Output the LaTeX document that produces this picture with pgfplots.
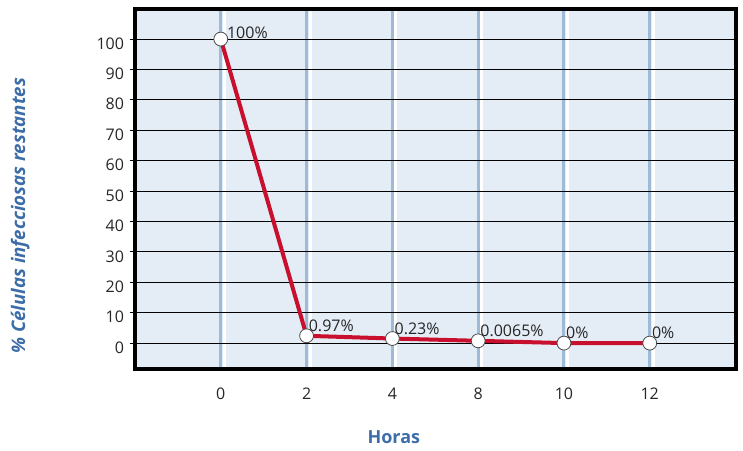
\documentclass[border=0pt]{standalone}
\usepackage{pgfplots}
\pgfplotsset{compat=1.18}
\usepackage{fontspec}
\setmainfont{Open Sans}
\definecolor{bgblue}{HTML}{E4ECF6}
\definecolor{gridblue}{HTML}{9DBAD6}
\definecolor{labblue}{HTML}{3D6DA8}
\definecolor{linered}{HTML}{C8102E}
\begin{document}
\begin{tikzpicture}
\begin{axis}[
  scale only axis,
  width=450.4pt, height=270.2pt,
  xmin=-1, xmax=6, ymin=-8.5, ymax=110,
  axis background/.style={fill=bgblue},
  axis line style={line width=3pt, black},
  axis on top=true,
  xtick={0,1,2,3,4,5},
  xticklabels={0,2,4,8,10,12},
  ytick={0,10,...,100},
  ytick pos=left,
  x tick style={draw=none},
  y tick style={black, line width=0.6pt},
  tick align=outside,
  major tick length=3.75pt,
  /pgf/number format/assume math mode=true,
  ticklabel style={font=\fontsize{12}{14}\selectfont, text=black!85},
  yticklabel style={yshift=-3.3pt, xshift=-1pt},
  xticklabel style={yshift=-7pt},
  xlabel={\bfseries Horas},
  ylabel={\bfseries\itshape \% Células infecciosas restantes},
  xlabel style={font=\fontsize{13.5}{16}\selectfont, text=labblue, at={(axis description cs:0.431,-0.189)}, anchor=center},
  ylabel style={font=\fontsize{14}{16}\selectfont, text=labblue, at={(axis description cs:-0.191,0.425)}, anchor=center, rotate=0},
  clip=false,
]
\pgfplotsinvokeforeach{0,1,2,3,4,5,6}{
  \draw[gridblue, line width=2.2pt] (axis cs:#1,-8.5) -- (axis cs:#1,110);
  \draw[white, line width=2.2pt] ([xshift=2.6pt]axis cs:#1,-8.5) -- ([xshift=2.6pt]axis cs:#1,110);
}
\pgfplotsinvokeforeach{0,10,...,100}{
  \draw[black, line width=0.7pt] (axis cs:-1,#1) -- (axis cs:6,#1);
}
\addplot[linered, line width=3pt, mark=*, mark size=5.2pt,
  mark options={fill=white, draw=black!70, line width=0.6pt}]
  coordinates {(0,100) (1,2.4) (2,1.5) (3,0.75) (4,0) (5,0)};
\addplot[draw=none, mark=none, nodes near coords, point meta=explicit symbolic,
  every node near coord/.style={anchor=west, xshift=4.5pt, yshift=4.5pt, font=\fontsize{12}{14}\selectfont, text=black!85, inner sep=0pt}]
  coordinates {(0,100)[100\%]};
\addplot[draw=none, mark=none, nodes near coords, point meta=explicit symbolic,
  every node near coord/.style={anchor=south west, xshift=1.5pt, yshift=3pt, font=\fontsize{12}{14}\selectfont, text=black!85, inner sep=0pt}]
  coordinates {(1,2.4)[0.97\%] (2,1.5)[0.23\%] (3,0.75)[0.0065\%] (4,0)[0\%] (5,0)[0\%]};
\end{axis}
\pgfresetboundingbox
\useasboundingbox (-101.25pt,-61.5pt) rectangle (456pt,276.7pt);
\end{tikzpicture}
\end{document}
